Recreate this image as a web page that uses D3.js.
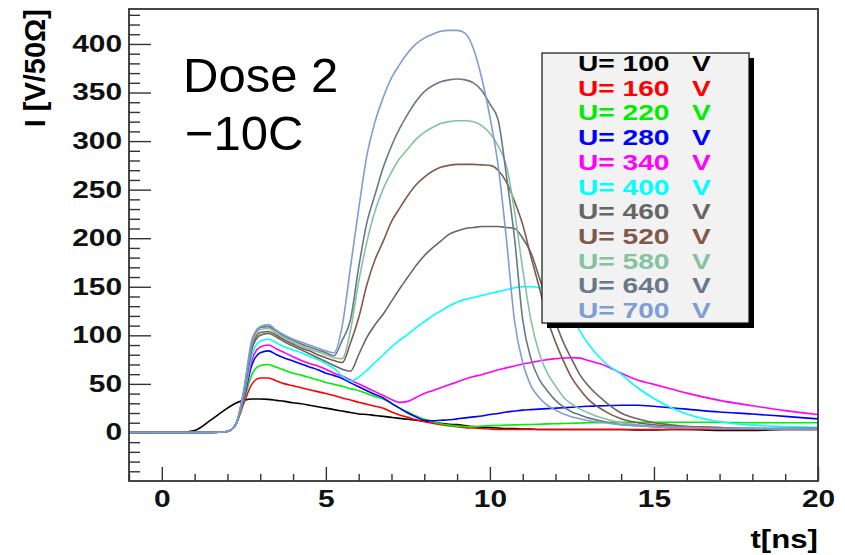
<!DOCTYPE html>
<html>
<head>
<meta charset="utf-8">
<script src="https://cdn.jsdelivr.net/npm/d3@7"></script>
<style>
  body { margin: 0; background: #fff; }
  .tick line { stroke: #333; stroke-width: 1.4; }
  .tick text { font-family: "Liberation Sans", Arial, sans-serif; font-weight: bold; font-size: 23px; fill: #111; }
</style>
</head>
<body>
<div id="chart"></div>
<script>
const svgWidth = 845;
const svgHeight = 555;

// plot frame in pixels
const frame = { left: 129, top: 9, right: 818, bottom: 481 };

// time bins [ns] shared by every curve
const times = [-1, 0, 0.5, 1, 1.5, 2, 2.25, 2.5, 2.75, 3, 3.25, 3.5, 3.75, 4, 4.25, 4.5, 4.75, 5, 5.25, 5.5,
  5.75, 6, 6.25, 6.5, 6.75, 7, 7.25, 7.5, 7.75, 8, 8.25, 8.5, 8.75, 9, 9.25, 9.5, 9.75, 10, 10.25, 10.5,
  10.75, 11, 11.25, 11.5, 11.75, 12, 12.25, 12.5, 12.75, 13, 13.5, 14, 14.5, 15, 15.5, 16, 17, 18, 19, 20];

// current I [V/50 Ohm] for each bias voltage
const i100 = [0, 0, 0, 2, 13, 25, 30, 33, 34.5, 34.5, 34, 33, 32, 30.5, 29.5, 28, 26.5, 25, 23.5, 22,
  20.5, 19, 18.5, 17.5, 16.5, 15.5, 14.5, 13.5, 12.5, 11.5, 10.5, 9.5, 8.5, 8, 7, 6, 5.5, 5, 4.5, 4,
  4, 3.5, 3.5, 3, 3, 3, 3, 3, 3, 3, 3, 3, 2.5, 2.5, 3, 3, 2, 2, 3, 3];
const i160 = [0, 0, 0, 0, 0, 1, 8, 30, 50, 56, 56, 53, 50, 48, 46, 44, 42, 40, 38, 35.5,
  33.5, 31, 29, 27, 25, 21, 18, 15.5, 13, 11, 9.5, 8, 7, 6, 5, 4.5, 4, 3.5, 3, 3,
  3, 3, 3, 3, 3, 3, 3, 3, 3, 3, 3, 3, 3, 3, 3, 3, 3, 3, 3, 3];
const i220 = [0, 0, 0, 0, 0, 1, 8, 33, 60, 69, 70, 67, 64, 61, 59, 56.5, 54, 51.5, 49.5, 47.5,
  45, 43, 40, 37, 34.5, 30, 25, 21, 17, 13.5, 11, 9, 7.5, 6.5, 6, 6, 6.5, 7, 7.2, 7.5,
  7.8, 8, 8.2, 8.5, 8.8, 9, 9.2, 9.5, 9.7, 10, 10.2, 10.5, 10.5, 10.5, 10.5, 10.5, 10.5, 10, 10, 10];
const i280 = [0, 0, 0, 0, 0, 1, 8, 35, 70, 82, 84, 80, 76.5, 73.5, 70.5, 67.5, 64.5, 61, 58.5, 55.5,
  51, 47, 43, 39, 35.5, 30, 25, 20, 16, 12.5, 12, 12.5, 13, 14, 15, 16, 17, 18.5, 19.5, 21,
  22, 23, 23.5, 24, 24.5, 25, 25.5, 26, 26.5, 27, 27.5, 28, 28, 27, 25.5, 24, 21, 19, 16.5, 14];
const i340 = [0, 0, 0, 0, 0, 1, 8, 36, 75, 88, 90, 86, 82, 78, 74, 71, 68.5, 65, 61, 58,
  54, 50, 46, 42, 38, 34, 31, 32, 36, 40, 43, 46, 49, 52, 55, 57.5, 59.5, 62, 64.5, 66.5,
  68.5, 70.5, 72, 73.5, 75, 76, 76.5, 77, 76.5, 74, 69, 61, 54, 49.5, 45, 40.5, 33, 27.5, 22.5, 18.5];
const i400 = [0, 0, 0, 0, 0, 1, 8, 38, 80, 94, 96, 92, 88, 85, 82, 78.5, 75, 71, 66, 58,
  53, 57, 64, 72, 80, 88, 95, 101, 108, 114, 120, 125, 130, 134, 137, 139, 141, 143, 145, 147,
  149, 150, 150, 149, 147, 141, 132, 120, 104, 91, 72, 60, 46, 35, 26, 19, 11, 7.5, 6, 5];
const i460 = [0, 0, 0, 0, 0, 1, 8, 40, 86, 100, 102, 98, 93, 89, 85, 81, 77, 73, 69, 65,
  63, 80, 98, 111, 122, 135, 148, 160, 172, 182, 190, 197, 204, 207.5, 210, 211, 212, 212, 212, 211,
  210, 200, 185, 160, 134, 113, 92, 75, 59, 48, 32, 20, 14, 10, 8, 6, 5, 4, 4, 4];
const i520 = [0, 0, 0, 0, 0, 1, 8, 41, 88, 103, 104, 100, 95, 91, 87, 84, 80, 77, 74, 72,
  92, 118, 152, 178, 197, 217, 231, 244, 255, 263, 269, 273, 275, 276, 276, 276, 275.5, 275, 270, 258,
  238, 214, 181, 150, 117, 93, 73, 56, 44, 34, 22, 14, 10, 8, 6.5, 6, 5, 4, 4, 4];
const i580 = [0, 0, 0, 0, 0, 1, 8, 42, 91, 106, 107, 102, 97, 93, 89, 86, 83, 80, 77, 76,
  105, 155, 196, 228, 251, 268, 282, 292, 302, 309, 314, 318, 320, 321, 321, 320, 316, 308, 295, 275,
  228, 168, 116, 82, 61, 48, 36, 29, 24, 20, 14, 10, 8, 6, 5.5, 5, 4, 4, 3.5, 3.5];
const i640 = [0, 0, 0, 0, 0, 1, 8, 43, 94, 108, 109, 104, 99, 95, 91, 88, 85, 82, 79, 95,
  116, 170, 216, 245, 273, 295, 313, 328, 341, 351, 357, 361, 363, 364, 363, 360, 352, 338, 322, 265,
  200, 116, 76, 55, 43, 33, 26, 21, 18, 15, 11, 8, 7, 6, 5, 5, 4, 4, 3.5, 3.5];
const i700 = [0, 0, 0, 0, 0, 1, 8, 44, 96, 109, 111, 105, 100, 96, 93, 90, 87, 84, 82, 110,
  170, 230, 285, 320, 345, 365, 379, 391, 400, 406, 410, 413, 414, 414, 411, 395, 365, 325, 275, 200,
  115, 72, 48, 36, 28, 23, 19, 16, 14, 12, 10, 8, 7, 6, 5, 5, 4, 4, 3.5, 3.5];

const voltages = [100, 160, 220, 280, 340, 400, 460, 520, 580, 640, 700];
const seriesValues = [i100, i160, i220, i280, i340, i400, i460, i520, i580, i640, i700];
const colors = ["#000000", "#ff0000", "#00ee00", "#0000ff", "#ff00ff", "#00ffff",
  "#666666", "#7f5a4a", "#84c2a2", "#687888", "#7f9dd2"];

// tick labels
const xTickLabels = [0, 5, 10, 15, 20];
const yTickLabels = [0, 50, 100, 150, 200, 250, 300, 350, 400];

const svg = d3.select("#chart")
  .append("svg")
  .attr("width", svgWidth)
  .attr("height", svgHeight);

const xScale = d3.scaleLinear().domain([-1, 20]).range([frame.left, frame.right]);
const yScale = d3.scaleLinear().domain([-50, 436]).range([frame.bottom, frame.top]);

// minor ticks
const xMinor = d3.range(-1, 20).filter(v => v % 5 !== 0);
const yMinor = d3.range(-40, 431, 10).filter(v => v % 50 !== 0);

svg.append("g")
  .attr("transform", `translate(0, ${frame.bottom})`)
  .call(d3.axisBottom(xScale).tickValues(xMinor).tickSize(-7).tickFormat(""))
  .call(g => g.select(".domain").remove());

svg.append("g")
  .attr("transform", `translate(${frame.left}, 0)`)
  .call(d3.axisLeft(yScale).tickValues(yMinor).tickSize(-11).tickFormat(""))
  .call(g => g.select(".domain").remove());

// major ticks with labels (labels stretched like the original)
svg.append("g")
  .attr("transform", `translate(0, ${frame.bottom})`)
  .call(d3.axisBottom(xScale).tickValues(xTickLabels).tickSize(-14).tickPadding(10))
  .call(g => g.select(".domain").remove())
  .selectAll("text")
  .attr("transform", "scale(1.3,1)");

svg.append("g")
  .attr("transform", `translate(${frame.left}, 0)`)
  .call(d3.axisLeft(yScale).tickValues(yTickLabels).tickSize(-22).tickPadding(7))
  .call(g => g.select(".domain").remove())
  .selectAll("text")
  .attr("x", -7 / 1.3)
  .attr("transform", "scale(1.3,1)");

// curves
svg.append("clipPath").attr("id", "plotClip")
  .append("rect")
  .attr("x", frame.left).attr("y", frame.top)
  .attr("width", frame.right - frame.left).attr("height", frame.bottom - frame.top);

const line = d3.line()
  .x((d, i) => xScale(times[i]))
  .y(d => yScale(d))
  .curve(d3.curveMonotoneX);

const curves = svg.append("g").attr("clip-path", "url(#plotClip)");
seriesValues.forEach(function (vals, k) {
  curves.append("path")
    .attr("d", line(vals))
    .attr("fill", "none")
    .attr("stroke", colors[k])
    .attr("stroke-width", 1.6)
    .attr("stroke-linejoin", "round");
});

// frame
svg.append("rect")
  .attr("x", frame.left).attr("y", frame.top)
  .attr("width", frame.right - frame.left).attr("height", frame.bottom - frame.top)
  .attr("fill", "none")
  .attr("stroke", "#333")
  .attr("stroke-width", 1.8);

// axis titles
svg.append("text")
  .attr("transform", `translate(45, ${frame.top}) rotate(-90)`)
  .attr("text-anchor", "end")
  .style("font-family", "'Liberation Sans', Arial, sans-serif")
  .style("font-weight", "bold")
  .style("font-size", "29px")
  .text("I [V/50Ω]");

svg.append("text")
  .attr("transform", `translate(${frame.right}, 548) scale(1.2,1)`)
  .attr("text-anchor", "end")
  .style("font-family", "'Liberation Sans', Arial, sans-serif")
  .style("font-weight", "bold")
  .style("font-size", "26px")
  .text("t[ns]");

// annotation
const note = svg.append("g")
  .style("font-family", "'Liberation Sans', Arial, sans-serif")
  .style("font-size", "49px");
note.append("text").attr("x", 183).attr("y", 92).text("Dose 2");
note.append("text").attr("x", 185).attr("y", 150).text("−10C");

// legend with ROOT style shadow
const legendBox = { x: 542, y: 53, w: 207, h: 270 };
svg.append("rect")
  .attr("x", legendBox.x + 5).attr("y", legendBox.y + 5)
  .attr("width", legendBox.w).attr("height", legendBox.h)
  .attr("fill", "#000");
svg.append("rect")
  .attr("x", legendBox.x).attr("y", legendBox.y)
  .attr("width", legendBox.w).attr("height", legendBox.h)
  .attr("fill", "#f2f2f2")
  .attr("stroke", "#111")
  .attr("stroke-width", 1.2);

const legendRows = svg.append("g")
  .style("font-family", "'Liberation Sans', Arial, sans-serif")
  .style("font-weight", "bold")
  .style("font-size", "22px");

voltages.forEach(function (u, k) {
  const base = 71 + k * 24.7;
  legendRows.append("text")
    .attr("transform", `translate(578, ${base}) scale(1.28,1)`)
    .attr("fill", colors[k])
    .text(`U= ${u}`);
  legendRows.append("text")
    .attr("transform", `translate(692, ${base}) scale(1.28,1)`)
    .attr("fill", colors[k])
    .text("V");
});
</script>
</body>
</html>
